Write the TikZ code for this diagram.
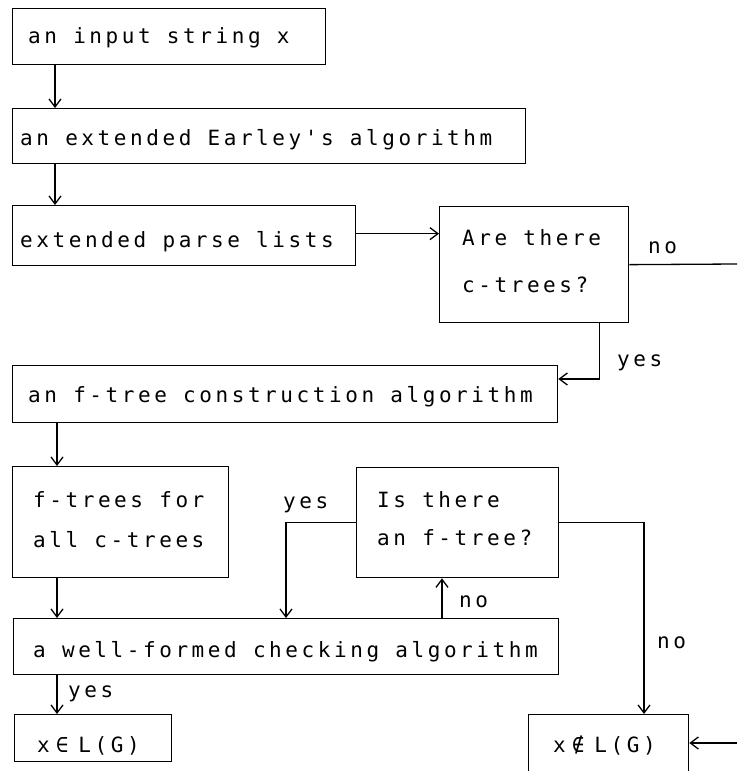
\documentclass[tikz,border=0pt]{standalone}
\usepackage{fontspec}
\setmonofont{DejaVu Sans Mono}[LetterSpace=17]
\usetikzlibrary{arrows.meta}
\begin{document}
\begin{tikzpicture}[x=1pt,y=-1pt,
  box/.style={draw, line width=1.3pt, rectangle, inner sep=0pt, anchor=north west},
  txt/.style={inner sep=0pt, anchor=base west, font=\fontsize{21}{24}\selectfont\ttfamily},
  arr/.style={line width=1.3pt, -{Straight Barb[length=8pt,width=12pt,line width=1.3pt]}},
  ln/.style={line width=1.3pt}]
\useasboundingbox (0,0) rectangle (737,771);
% boxes
\node[box, minimum width=313pt, minimum height=56pt] (in) at (12,8) {};
\node[box, minimum width=513pt, minimum height=55pt] (ee) at (12,108) {};
\node[box, minimum width=343pt, minimum height=60pt] (pl) at (12,205) {};
\node[box, minimum width=189pt, minimum height=116pt] (ct) at (439,206) {};
\node[box, minimum width=545pt, minimum height=57pt] (fc) at (12,365) {};
\node[box, minimum width=216pt, minimum height=111pt] (ft) at (12,466) {};
\node[box, minimum width=202pt, minimum height=110pt] (it) at (356,467) {};
\node[box, minimum width=545pt, minimum height=56pt] (wf) at (13,618) {};
\node[box, minimum width=157pt, minimum height=47pt] (inL) at (14,714) {};
\node[box, minimum width=160pt, minimum height=70pt] (notL) at (528,714) {};
% texts
\node[txt] (in-t) at (28,43) {an input string x};
\node[txt] (ee-t) at (20,145) {an extended Earley's algorithm};
\node[txt] (pl-t) at (20,247) {extended parse lists};
\node[txt] (ct-t1) at (462,245) {Are there};
\node[txt] (ct-t2) at (462,292) {c-trees?};
\node[txt] (fc-t) at (28,402) {an f-tree construction algorithm};
\node[txt] (ft-t1) at (33,507) {f-trees for};
\node[txt] (ft-t2) at (33,547) {all c-trees};
\node[txt] (it-t1) at (377,507) {Is there};
\node[txt] (it-t2) at (377,545) {an f-tree?};
\node[txt] (wf-t) at (33,657) {a well-formed checking algorithm};
\node[txt] (inL-t) at (37,752) {x\kern6pt∈\kern10pt L(G)};
\node[txt] (notL-t) at (553,752) {x\kern6pt∉\kern10pt L(G)};
% labels
\node[txt] (l-no1) at (648,253) {no};
\node[txt] (l-yes1) at (617,366) {yes};
\node[txt] (l-yes2) at (283,508) {yes};
\node[txt] (l-no2) at (459,607) {no};
\node[txt] (l-no3) at (657,648) {no};
\node[txt] (l-yes3) at (68,697) {yes};
% free ends
\coordinate (edge1) at (737,264);
\coordinate (edge2) at (737,743);
% connectors
\draw[arr] ([xshift=43pt]in.south west) -- ([xshift=43pt]ee.north west);
\draw[arr] ([xshift=43pt]ee.south west) -- ([xshift=43pt]pl.north west);
\draw[arr] ([yshift=2pt]pl.east) -- ([yshift=2pt]pl.east -| ct.west);
\draw[ln] (ct.east) -- (edge1);
\draw[arr] ([xshift=-30pt]ct.south east) |- ([yshift=-14pt]fc.north east);
\draw[arr] ([xshift=45pt]fc.south west) -- ([xshift=45pt]ft.north west);
\draw[arr] ([xshift=45pt]ft.south west) -- ([xshift=45pt]ft.south west |- wf.north);
\draw[arr] (it.west) -| ([xshift=273pt]wf.north west);
\draw[arr] ([xshift=429pt]wf.north west) -- ([xshift=429pt]wf.north west |- it.south);
\draw[arr] (it.east) -| ([xshift=116pt]notL.north west);
\draw[arr] ([xshift=44pt]wf.south west) -- ([xshift=44pt]wf.south west |- inL.north);
\draw[arr] (edge2) -- (edge2 -| notL.east);
\end{tikzpicture}
\end{document}
